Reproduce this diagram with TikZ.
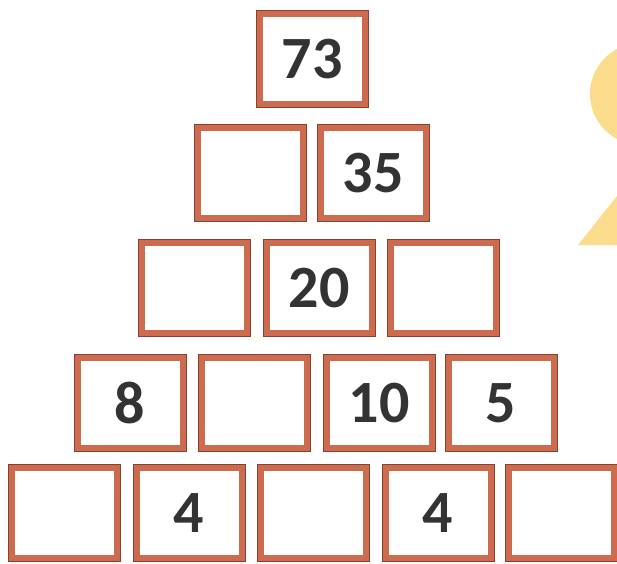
\documentclass[tikz,border=0pt]{standalone}
\usepackage{fontspec}
\setmainfont{Carlito}
\definecolor{boxbrown}{HTML}{CD6B4F}
\definecolor{edgebrown}{HTML}{8A4030}
\definecolor{digit}{HTML}{333333}
\definecolor{sunyellow}{HTML}{FBDC8C}
\tikzset{
  cell/.style={draw=boxbrown, line width=6pt, fill=white,
    preaction={draw=edgebrown, line width=8pt},
    minimum width=105pt, minimum height=90pt, inner sep=0pt,
    font=\fontsize{60}{60}\selectfont\bfseries, text=digit}
}
\begin{document}
\begin{tikzpicture}[x=1pt,y=-1pt]
\useasboundingbox (0,0) rectangle (617,563);
\clip (0,0) rectangle (617,563);
\fill[white] (0,0) rectangle (617,563);
% yellow decoration
\fill[sunyellow] (641,94) circle (51);
\fill[sunyellow] (578,245) -- (617,196) -- (617,245) -- cycle;
% row 1
\node[cell] (r1a) at (312,59) {73};
% row 2
\node[cell] (r2a) at (250,173) {};
\node[cell] (r2b) at (373,173) {35};
% row 3
\node[cell] (r3a) at (194,288) {};
\node[cell] (r3b) at (319,288) {20};
\node[cell] (r3c) at (443,288) {};
% row 4
\node[cell] (r4a) at (130,403) {8};
\node[cell] (r4b) at (254,403) {};
\node[cell] (r4c) at (379,403) {10};
\node[cell] (r4d) at (501,403) {5};
% row 5
\node[cell] (r5a) at (64,513) {};
\node[cell] (r5b) at (189,513) {4};
\node[cell] (r5c) at (313,513) {};
\node[cell] (r5d) at (438,513) {4};
\node[cell] (r5e) at (561,513) {};
\end{tikzpicture}
\end{document}
